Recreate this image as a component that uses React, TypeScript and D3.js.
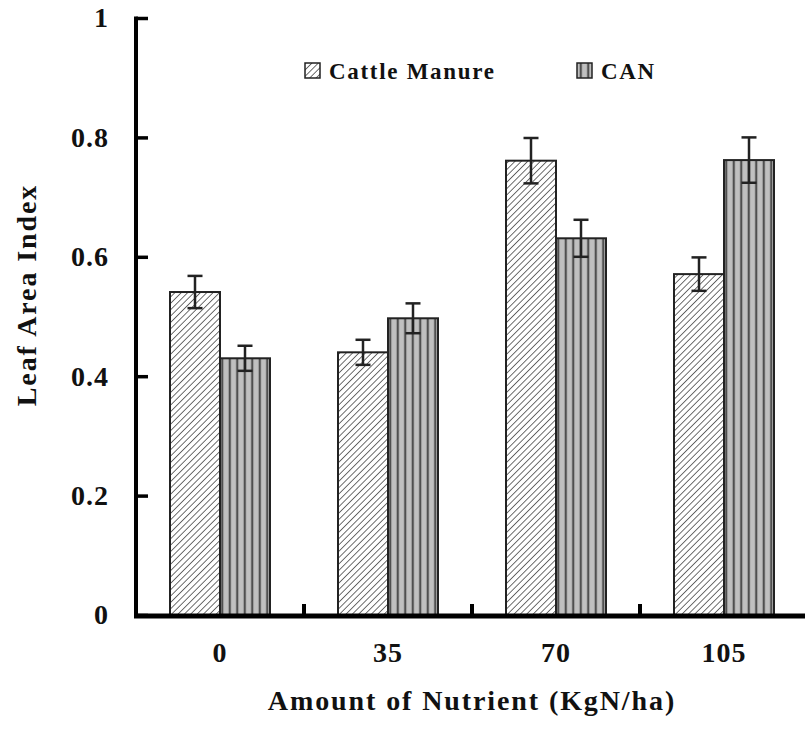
import React, { useEffect, useRef } from 'react';
import * as d3 from 'd3';

const categories = ['0', '35', '70', '105'];
const seriesNames = ['Cattle Manure', 'CAN'];
const cattleManure = [0.541, 0.44, 0.761, 0.571];
const cattleErr = [0.027, 0.021, 0.038, 0.028];
const can = [0.43, 0.497, 0.631, 0.762];
const canErr = [0.021, 0.025, 0.031, 0.038];
const yTicks = [0, 0.2, 0.4, 0.6, 0.8, 1];

const App = () => {
  const svgRef = useRef<SVGSVGElement>(null);

  useEffect(() => {
    if (!svgRef.current) return;
    const svg = d3.select(svgRef.current);
    svg.selectAll('*').remove();

    const w = 805;
    const font = 'Liberation Serif, DejaVu Serif, serif';

    const data = categories.map((c, i) => ({
      cat: c,
      values: [
        { key: seriesNames[0], v: cattleManure[i], e: cattleErr[i] },
        { key: seriesNames[1], v: can[i], e: canErr[i] },
      ],
    }));

    const x0 = d3.scaleBand().domain(categories).range([136, 808]).padding(0);
    const x1 = d3
      .scaleBand()
      .domain(seriesNames)
      .range([0, x0.bandwidth()])
      .paddingInner(0)
      .paddingOuter(0.68);
    const y = d3.scaleLinear().domain([0, 1]).range([615, 18]);

    // patterns
    const defs = svg.append('defs');
    const hatch = defs
      .append('pattern')
      .attr('id', 'hatch')
      .attr('patternUnits', 'userSpaceOnUse')
      .attr('width', 4.5)
      .attr('height', 4.5)
      .attr('patternTransform', 'rotate(45)');
    hatch.append('rect').attr('width', 4.5).attr('height', 4.5).attr('fill', '#fff');
    hatch
      .append('line')
      .attr('x1', 0)
      .attr('y1', 0)
      .attr('x2', 0)
      .attr('y2', 4.5)
      .attr('stroke', '#4a4a4a')
      .attr('stroke-width', 1.6);

    const vert = defs
      .append('pattern')
      .attr('id', 'vert')
      .attr('patternUnits', 'userSpaceOnUse')
      .attr('width', 7.5)
      .attr('height', 8);
    vert.append('rect').attr('width', 7.5).attr('height', 8).attr('fill', '#c0c0c0');
    vert
      .append('line')
      .attr('x1', 3.75)
      .attr('y1', 0)
      .attr('x2', 3.75)
      .attr('y2', 8)
      .attr('stroke', '#4f4f4f')
      .attr('stroke-width', 2.2);

    const fill = d3.scaleOrdinal<string>().domain(seriesNames).range(['url(#hatch)', 'url(#vert)']);

    // bars
    const groups = svg
      .append('g')
      .selectAll('g')
      .data(data)
      .enter()
      .append('g')
      .attr('transform', (d) => `translate(${x0(d.cat)},0)`);

    groups
      .selectAll('rect')
      .data((d) => d.values)
      .enter()
      .append('rect')
      .attr('x', (d) => x1(d.key)!)
      .attr('y', (d) => y(d.v))
      .attr('width', x1.bandwidth())
      .attr('height', (d) => y(0) - y(d.v))
      .attr('fill', (d) => fill(d.key))
      .attr('stroke', '#222')
      .attr('stroke-width', 2);

    // error bars
    const eb = groups
      .selectAll('g.err')
      .data((d) => d.values)
      .enter()
      .append('g')
      .attr('class', 'err')
      .attr('stroke', '#222')
      .attr('stroke-width', 2.5);
    const cx = (d: any) => x1(d.key)! + x1.bandwidth() / 2;
    eb.append('line')
      .attr('x1', cx)
      .attr('x2', cx)
      .attr('y1', (d) => y(d.v + d.e))
      .attr('y2', (d) => y(d.v - d.e));
    eb.append('line')
      .attr('x1', (d) => cx(d) - 7.5)
      .attr('x2', (d) => cx(d) + 7.5)
      .attr('y1', (d) => y(d.v + d.e))
      .attr('y2', (d) => y(d.v + d.e));
    eb.append('line')
      .attr('x1', (d) => cx(d) - 7.5)
      .attr('x2', (d) => cx(d) + 7.5)
      .attr('y1', (d) => y(d.v - d.e))
      .attr('y2', (d) => y(d.v - d.e));

    // y axis
    const yAxis = d3
      .axisLeft(y)
      .tickValues(yTicks)
      .tickSizeInner(-12)
      .tickSizeOuter(0)
      .tickPadding(27)
      .tickFormat((d) => String(d));
    const yg = svg.append('g').attr('transform', 'translate(136,0)').call(yAxis);
    yg.attr('font-family', font).attr('font-size', 28).attr('font-weight', 'bold');
    yg.select('.domain').remove();
    yg.selectAll('line').attr('stroke', '#000').attr('stroke-width', 3.5);
    yg.selectAll('text').attr('fill', '#111').attr('letter-spacing', 1);
    svg
      .append('line')
      .attr('x1', 136)
      .attr('x2', 136)
      .attr('y1', y(1) - 1.5)
      .attr('y2', y(0) + 2.5)
      .attr('stroke', '#000')
      .attr('stroke-width', 4);

    // x axis
    const xg = svg
      .append('g')
      .attr('font-family', font)
      .attr('font-size', 28)
      .attr('font-weight', 'bold');
    xg.append('line')
      .attr('x1', 134)
      .attr('x2', w)
      .attr('y1', 616)
      .attr('y2', 616)
      .attr('stroke', '#000')
      .attr('stroke-width', 5);
    xg.selectAll('line.sep')
      .data(categories.slice(1))
      .enter()
      .append('line')
      .attr('class', 'sep')
      .attr('x1', (d) => x0(d)!)
      .attr('x2', (d) => x0(d)!)
      .attr('y1', 604)
      .attr('y2', 616)
      .attr('stroke', '#000')
      .attr('stroke-width', 4);
    xg.selectAll('text')
      .data(categories)
      .enter()
      .append('text')
      .attr('x', (d) => x0(d)! + x0.bandwidth() / 2)
      .attr('y', 662)
      .attr('text-anchor', 'middle')
      .attr('letter-spacing', 1)
      .attr('fill', '#111')
      .text((d) => d);

    // titles
    svg
      .append('text')
      .attr('x', 472)
      .attr('y', 710)
      .attr('text-anchor', 'middle')
      .attr('font-family', font)
      .attr('font-size', 28)
      .attr('font-weight', 'bold')
      .attr('letter-spacing', 1.9)
      .attr('fill', '#111')
      .text('Amount of Nutrient (KgN/ha)');
    svg
      .append('text')
      .attr('transform', 'translate(36,295) rotate(-90)')
      .attr('text-anchor', 'middle')
      .attr('font-family', font)
      .attr('font-size', 28)
      .attr('font-weight', 'bold')
      .attr('letter-spacing', 1.9)
      .attr('fill', '#111')
      .text('Leaf Area Index');

    // legend
    const legendX = [305, 577];
    const lg = svg
      .append('g')
      .selectAll('g')
      .data(seriesNames)
      .enter()
      .append('g')
      .attr('transform', (d, i) => `translate(${legendX[i]},63)`);
    lg.append('rect')
      .attr('width', 15)
      .attr('height', 15)
      .attr('fill', (d) => fill(d))
      .attr('stroke', '#222')
      .attr('stroke-width', 1.5);
    lg.append('text')
      .attr('x', 24)
      .attr('y', 16)
      .attr('font-family', font)
      .attr('font-size', 23)
      .attr('font-weight', 'bold')
      .attr('letter-spacing', 1.7)
      .attr('fill', '#111')
      .text((d) => d);
  }, []);

  return (
    <svg
      ref={svgRef}
      width={805}
      height={732}
      style={{ position: 'absolute', left: 0, top: 0, background: '#fff' }}
    ></svg>
  );
};

export default App;
